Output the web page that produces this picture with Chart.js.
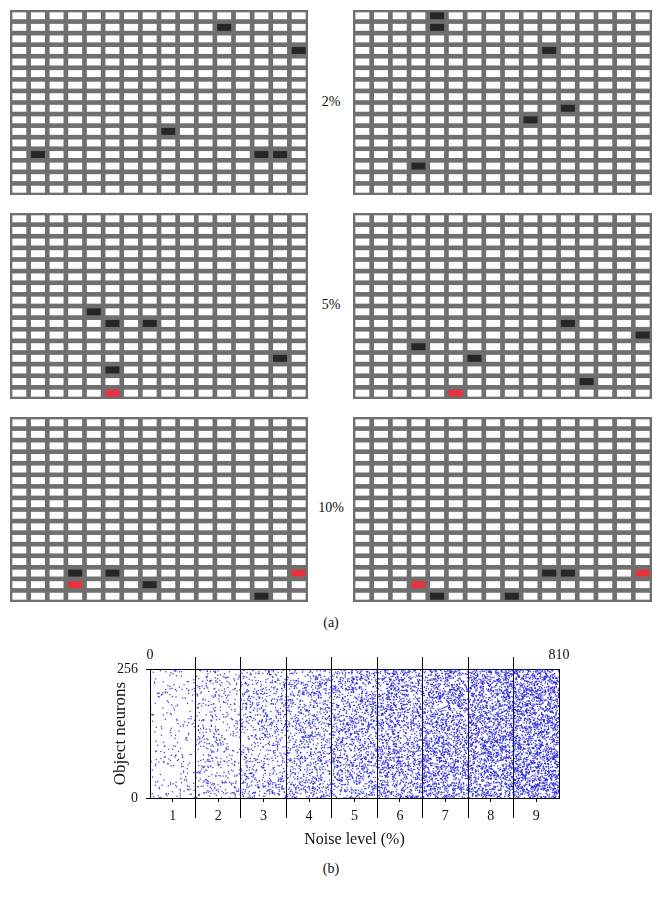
<!DOCTYPE html>
<html>
<head>
<meta charset="utf-8">
<script src="https://cdn.jsdelivr.net/npm/chart.js@4.4.1/dist/chart.umd.min.js"></script>
<style>
  body { margin: 0; background: #fff; }
  #page { position: relative; width: 662px; height: 903px; font-family: 'Liberation Serif', 'DejaVu Serif', serif; color: #111; }
  canvas { position: absolute; }
  .lbl { position: absolute; font-size: 14px; transform: translate(-50%, -50%); white-space: nowrap; }
</style>
</head>
<body>
<div id="page">
  <canvas id="g0" width="298" height="185" style="left:10px;top:10px"></canvas>
  <canvas id="g1" width="299" height="185" style="left:353px;top:10px"></canvas>
  <canvas id="g2" width="298" height="186" style="left:10px;top:213px"></canvas>
  <canvas id="g3" width="299" height="186" style="left:353px;top:213px"></canvas>
  <canvas id="g4" width="298" height="185" style="left:10px;top:417px"></canvas>
  <canvas id="g5" width="299" height="185" style="left:353px;top:417px"></canvas>
  <div class="lbl" style="left:331px;top:102px">2%</div>
  <div class="lbl" style="left:331px;top:305px">5%</div>
  <div class="lbl" style="left:331px;top:508px">10%</div>
  <div class="lbl" style="left:331px;top:623px">(a)</div>
  <canvas id="scatter" width="480" height="216" style="left:100px;top:636px"></canvas>
  <div class="lbl" style="left:331px;top:869px">(b)</div>
</div>
<script>
// 16 x 16 object neurons per pattern
const gridRows = 16;
const gridCols = 16;

// [row, col] of flipped neurons for each pattern, left/right per noise level
const darkCells = [
  [[1, 11], [3, 15], [10, 8], [12, 1], [12, 13], [12, 14]],
  [[0, 4], [1, 4], [3, 10], [8, 11], [9, 9], [13, 3]],
  [[8, 4], [9, 5], [9, 7], [12, 14], [13, 5]],
  [[9, 11], [10, 15], [11, 3], [12, 6], [14, 12]],
  [[13, 3], [13, 5], [14, 7], [15, 13]],
  [[13, 10], [13, 11], [15, 4], [15, 8]]
];
const redCells = [
  [],
  [],
  [[15, 5]],
  [[15, 5]],
  [[13, 15], [14, 3]],
  [[13, 15], [14, 3]]
];

// (b) raster: trials 0..810, 90 per noise level
const noiseLevels = ['1', '2', '3', '4', '5', '6', '7', '8', '9'];
const levelEdges = [0, 90, 180, 270, 360, 450, 540, 630, 720, 810];
const levelCenters = [45, 135, 225, 315, 405, 495, 585, 675, 765];
const dotsPerLevel = [230, 460, 690, 920, 1150, 1380, 1610, 1840, 2070];
const neuronTicks = [0, 256];
const topTicks = ['0', '810'];

const serif = "'Liberation Serif', 'DejaVu Serif', serif";

const gridBg = {
  id: 'gridBg',
  beforeDraw(chart) {
    const { ctx, chartArea: a } = chart;
    ctx.save();
    ctx.fillStyle = '#6f6f6f';
    ctx.fillRect(a.left, a.top, a.width, a.height);
    ctx.restore();
  }
};

function cellColor(idx, r, c) {
  if (redCells[idx].some(p => p[0] === r && p[1] === c)) return '#e8323c';
  if (darkCells[idx].some(p => p[0] === r && p[1] === c)) return '#262626';
  return '#fdfdfd';
}

function buildGrid(idx) {
  const rows = [...Array(gridRows).keys()];
  const cols = [...Array(gridCols).keys()];
  const datasets = rows.map(r => ({
    data: cols.map(() => [r + 0.2, r + 0.8]),
    backgroundColor: cols.map(c => cellColor(idx, r, c)),
    borderWidth: 0,
    grouped: false,
    barPercentage: 0.75,
    categoryPercentage: 1
  }));
  new Chart(document.getElementById('g' + idx), {
    type: 'bar',
    data: { labels: cols.map(String), datasets },
    options: {
      animation: false,
      responsive: false,
      events: [],
      layout: { padding: 0 },
      plugins: { legend: { display: false }, tooltip: { enabled: false } },
      scales: {
        x: { display: false },
        y: { display: false, min: 0, max: gridRows, reverse: true }
      }
    },
    plugins: [gridBg]
  });
}

for (let i = 0; i < 6; i++) buildGrid(i);

// scatter each level's dots over its 90 trials and 256 neurons
function scramble(n) {
  n = Math.imul(n ^ (n >>> 16), 0x45d9f3b);
  n = Math.imul(n ^ (n >>> 16), 0x45d9f3b);
  n ^= n >>> 16;
  return (n >>> 0) / 4294967296;
}
const points = [];
dotsPerLevel.forEach((n, k) => {
  for (let i = 0; i < n; i++) {
    const u = scramble(9876543 + k * 100003 + i * 2);
    const v = scramble(9876543 + k * 100003 + i * 2 + 1);
    points.push({ x: levelEdges[k] + Math.floor(u * 90) + 0.5, y: Math.floor(v * 256) + 0.5 });
  }
});

const tickFont = { family: serif, size: 14 };
const lastEdge = levelEdges.length - 1;
const innerOnly = c => (c.index === 0 || c.index === lastEdge) ? 'rgba(0,0,0,0)' : '#000';

new Chart(document.getElementById('scatter'), {
  type: 'scatter',
  data: {
    datasets: [{
      data: points,
      pointRadius: 0.75,
      pointBorderWidth: 0,
      pointBackgroundColor: 'rgba(36, 36, 220, 0.85)'
    }]
  },
  options: {
    animation: false,
    responsive: false,
    events: [],
    layout: { padding: { right: 21, left: 0, top: 0, bottom: 0 } },
    plugins: { legend: { display: false }, tooltip: { enabled: false } },
    scales: {
      xMid: {
        type: 'linear', position: 'bottom', min: 0, max: 810, weight: 0,
        afterBuildTicks: s => { s.ticks = levelCenters.map(v => ({ value: v })); },
        afterFit: s => { s.height = 0; },
        ticks: { display: false },
        grid: { drawOnChartArea: false, color: '#000', lineWidth: 1, tickLength: 4 },
        border: { display: false }
      },
      x: {
        type: 'linear', position: 'bottom', min: 0, max: 810, weight: 1,
        afterBuildTicks: s => { s.ticks = levelEdges.map(v => ({ value: v })); },
        afterFit: s => { s.height = 54; },
        ticks: {
          callback: (v, i) => noiseLevels[i] ?? '',
          labelOffset: 22.7, padding: -10, maxRotation: 0, autoSkip: false,
          color: '#111', font: tickFont
        },
        grid: { color: innerOnly, lineWidth: 1, tickLength: 20 },
        border: { color: '#000', width: 1 },
        title: { display: true, text: 'Noise level (%)', color: '#111', font: { family: serif, size: 16 }, padding: { top: 0, bottom: 3 } }
      },
      xTop: {
        type: 'linear', position: 'top', min: 0, max: 810,
        afterBuildTicks: s => { s.ticks = levelEdges.map(v => ({ value: v })); },
        afterFit: s => { s.height = 33; },
        ticks: {
          callback: (v, i) => i === 0 ? topTicks[0] : (i === lastEdge ? topTicks[1] : ''),
          padding: -7, maxRotation: 0, autoSkip: false,
          color: '#111', font: tickFont
        },
        grid: { drawOnChartArea: false, color: innerOnly, lineWidth: 1, tickLength: 12 },
        border: { color: '#000', width: 1 }
      },
      y: {
        min: 0, max: 256,
        afterBuildTicks: s => { s.ticks = neuronTicks.map(v => ({ value: v })); },
        afterFit: s => { s.width = 50; },
        ticks: { color: '#111', font: tickFont, padding: 8 },
        grid: { drawOnChartArea: false, color: '#000', lineWidth: 1, tickLength: 4 },
        border: { color: '#000', width: 1 },
        title: { display: true, text: 'Object neurons', color: '#111', font: { family: serif, size: 17 }, padding: { top: 10, bottom: 0 } }
      },
      yRight: {
        position: 'right', min: 0, max: 256,
        afterFit: s => { s.width = 0; },
        ticks: { display: false },
        grid: { display: false },
        border: { color: '#000', width: 1 }
      }
    }
  }
});
</script>
</body>
</html>
